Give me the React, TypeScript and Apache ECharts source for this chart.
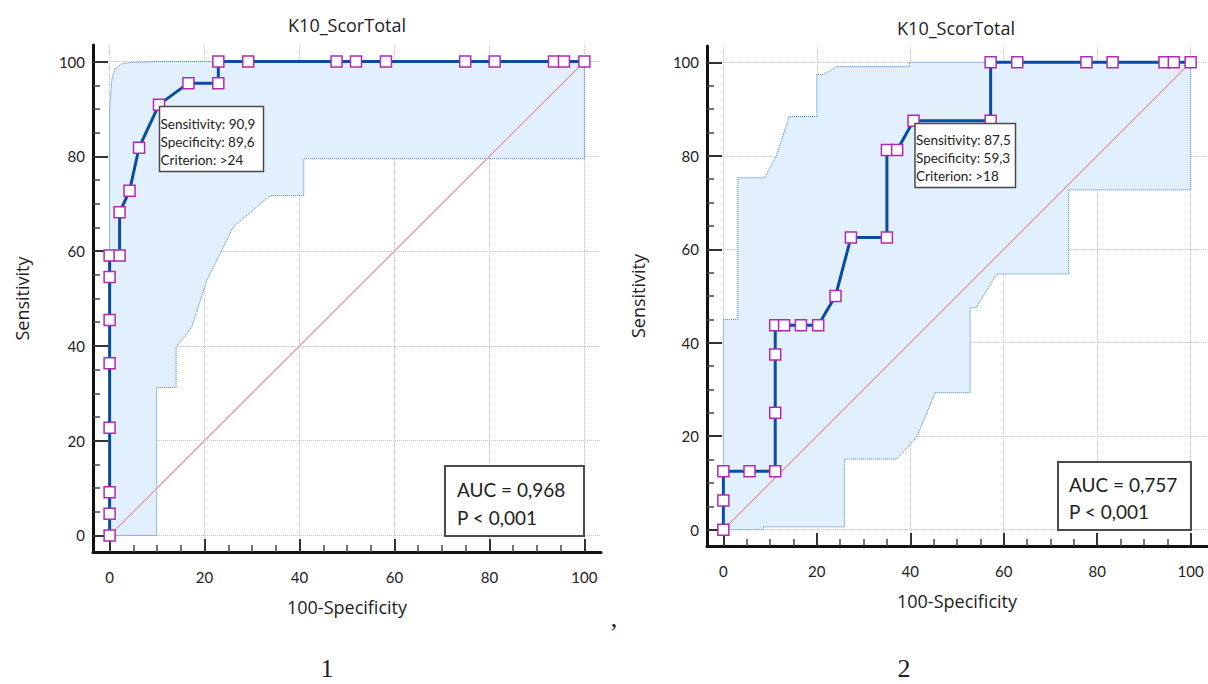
import React, { useEffect, useRef } from "react";
import * as echarts from "echarts";

const TITLE = "K10_ScorTotal";
const X_NAME = "100-Specificity";
const Y_NAME = "Sensitivity";
const MAJOR_TICKS = [0, 20, 40, 60, 80, 100];
const MINOR_TICKS = [5, 10, 15, 25, 30, 35, 45, 50, 55, 65, 70, 75, 85, 90, 95];
const DIAGONAL = [[0, 0], [100, 100]];

// Chart 1: ROC points [100-specificity, sensitivity]
const roc1 = [
  [0, 0], [0, 4.55], [0, 9.09], [0, 22.73], [0, 36.36], [0, 45.45], [0, 54.55], [0, 59.09],
  [2.1, 59.09], [2.1, 68.18], [4.2, 72.73], [6.2, 81.82], [10.4, 90.91], [16.6, 95.45],
  [22.9, 95.45], [22.9, 100], [29.2, 100], [47.8, 100], [51.9, 100], [58.2, 100],
  [74.9, 100], [81.1, 100], [93.6, 100], [95.7, 100], [100, 100],
];
const upper1 = [
  [0, 0], [0, 90], [0.5, 96.5], [1.2, 98.5], [2.5, 99.5], [4.3, 99.8], [10, 100], [100, 100],
];
const lower1 = [
  [0, 0], [9.9, 0], [9.9, 31.2], [14, 31.2], [14, 39.7], [17.3, 44], [20.5, 53.9], [25, 63],
  [26.1, 65.2], [33.8, 71.7], [40.9, 71.7], [40.9, 79.5], [100, 79.5], [100, 100],
];
const info1 = ["Sensitivity: 90,9", "Specificity: 89,6", "Criterion: >24"];
const auc1 = ["AUC = 0,968", "P < 0,001"];

// Chart 2
const roc2 = [
  [0, 0], [0, 6.25], [0, 12.5], [5.6, 12.5], [11.1, 12.5], [11.1, 25], [11.1, 37.5],
  [11.1, 43.75], [13, 43.75], [16.6, 43.75], [20.3, 43.75], [24, 50], [27.3, 62.5],
  [35, 62.5], [35, 81.25], [37.2, 81.25], [40.7, 87.5], [57.2, 87.5], [57.2, 100],
  [62.9, 100], [77.7, 100], [83.3, 100], [94.4, 100], [96.4, 100], [100, 100],
];
const upper2 = [
  [0, 0], [0, 45], [3.1, 45], [3.1, 75.3], [8.8, 75.3], [11.3, 79.8], [14.1, 88.4],
  [20, 88.4], [20, 97.4], [21.4, 97.4], [24.3, 99.1], [39.8, 99.1], [39.8, 100], [100, 100],
];
const lower2 = [
  [0, 0], [8.6, 0], [8.6, 0.6], [25.9, 0.6], [25.9, 15.1], [37.1, 15.1], [41.4, 19.8],
  [45.3, 29.3], [52.8, 29.3], [52.8, 47.5], [54.1, 47.5], [58.5, 54.7], [73.9, 54.7],
  [73.9, 72.7], [100, 72.7], [100, 100],
];
const info2 = ["Sensitivity: 87,5", "Specificity: 59,3", "Criterion: >18"];
const auc2 = ["AUC = 0,757", "P < 0,001"];

const FONT = "Lato";
const NAME_FONT = "Open Sans";
const TXT = "#222";

function axesFor(gridIndex: number, isX: boolean, nameGap: number) {
  const common = {
    type: "value",
    gridIndex,
    min: -3.5,
    max: 103.5,
    position: isX ? "bottom" : "left",
  };
  const major = {
    ...common,
    name: isX ? X_NAME : Y_NAME,
    nameLocation: "middle",
    nameGap,
    nameTextStyle: { fontFamily: NAME_FONT, fontSize: 18, color: TXT },
    axisLine: { show: true, onZero: false, lineStyle: { color: "#111", width: 3 } },
    axisTick: {
      show: true,
      inside: true,
      length: isX ? 13 : 15,
      customValues: MAJOR_TICKS,
      lineStyle: { color: "#333", width: 2 },
    },
    axisLabel: {
      customValues: MAJOR_TICKS,
      margin: isX ? 17 : 8,
      fontFamily: FONT,
      fontSize: 15,
      color: TXT,
    },
    splitLine: { show: true, lineStyle: { color: "#c6c6c6", type: "dotted", width: 1 } },
  };
  const minor = {
    ...common,
    axisLine: { show: false, onZero: false },
    axisTick: {
      show: true,
      inside: true,
      length: 7,
      customValues: MINOR_TICKS,
      lineStyle: { color: "#444", width: 1.5 },
    },
    axisLabel: { show: false },
    splitLine: { show: false },
  };
  return [major, minor];
}

function seriesFor(axisIndex: number, roc: number[][], upper: number[][], lower: number[][]) {
  const base = { xAxisIndex: axisIndex, yAxisIndex: axisIndex };
  return [
    {
      ...base,
      type: "custom",
      silent: true,
      z: 1,
      data: [0],
      renderItem: (_p: any, api: any) => {
        const pts = upper.concat(lower.slice().reverse()).map((p) => api.coord(p));
        return { type: "polygon", shape: { points: pts }, style: { fill: "#e2effc" } };
      },
    },
    {
      ...base,
      type: "line",
      silent: true,
      z: 2,
      data: upper,
      showSymbol: false,
      lineStyle: { color: "#3d7dcc", width: 1, type: "dotted" },
    },
    {
      ...base,
      type: "line",
      silent: true,
      z: 2,
      data: lower,
      showSymbol: false,
      lineStyle: { color: "#3d7dcc", width: 1, type: "dotted" },
    },
    {
      ...base,
      type: "line",
      silent: true,
      z: 3,
      data: DIAGONAL,
      showSymbol: false,
      lineStyle: { color: "#f0d6e0", width: 2 },
    },
    {
      ...base,
      type: "line",
      silent: true,
      z: 3,
      data: DIAGONAL,
      showSymbol: false,
      lineStyle: { color: "#b0506f", width: 0.6 },
    },
    {
      ...base,
      type: "line",
      silent: true,
      z: 5,
      data: roc,
      symbol: "rect",
      symbolSize: 11,
      showSymbol: true,
      showAllSymbol: true,
      lineStyle: { color: "#0a4c9e", width: 3 },
      itemStyle: { color: "#ffffff", borderColor: "#b02ab4", borderWidth: 1.5 },
    },
  ];
}

function text(x: number, y: number, s: string, size: number, align = "left", family = FONT) {
  return {
    type: "text",
    x,
    y,
    z: 100,
    silent: true,
    style: {
      text: s,
      font: `${size}px ${family}`,
      fill: TXT,
      align,
      textAlign: align,
      verticalAlign: "middle",
      textVerticalAlign: "middle",
    },
  };
}

function box(x: number, y: number, w: number, h: number, lw: number) {
  return {
    type: "rect",
    z: 99,
    silent: true,
    shape: { x, y, width: w, height: h },
    style: { fill: "#ffffff", stroke: "#4a4a4a", lineWidth: lw },
  };
}

export default function App() {
  const ref = useRef<HTMLDivElement>(null);
  useEffect(() => {
    if (!ref.current) return;
    const chart = echarts.init(ref.current, null, { renderer: "svg" });
    const option: any = {
      animation: false,
      backgroundColor: "#ffffff",
      grid: [
        { left: 93, top: 45, width: 508, height: 507 },
        { left: 707, top: 46, width: 500, height: 500 },
      ],
      xAxis: [...axesFor(0, true, 46), ...axesFor(1, true, 46)],
      yAxis: [...axesFor(0, false, 62), ...axesFor(1, false, 60)],
      series: [
        ...seriesFor(0, roc1, upper1, lower1),
        ...seriesFor(2, roc2, upper2, lower2),
      ],
      graphic: [
        text(347, 25, TITLE, 18, "center", NAME_FONT),
        text(956, 28, TITLE, 18, "center", NAME_FONT),
        box(159.5, 106.5, 104, 65, 1.5),
        text(160.5, 123.5, info1[0], 13.5),
        text(160.5, 141.5, info1[1], 13.5),
        text(160.5, 159.5, info1[2], 13.5),
        box(915, 123.5, 100.5, 64, 1.5),
        text(916, 139.5, info2[0], 13.5),
        text(916, 157.5, info2[1], 13.5),
        text(916, 175.5, info2[2], 13.5),
        box(445, 466, 139, 70, 2),
        text(457, 489, auc1[0], 19),
        text(457, 517, auc1[1], 19),
        box(1058, 462, 133, 68, 2),
        text(1069, 484.5, auc2[0], 19),
        text(1069, 511, auc2[1], 19),
        text(327, 668, "1", 26, "center", "Liberation Serif"),
        text(614, 618, ",", 26, "center", "Liberation Serif"),
        text(904, 668, "2", 26, "center", "Liberation Serif"),
      ],
    };
    chart.setOption(option);
    return () => chart.dispose();
  }, []);
  return (
    <div
      ref={ref}
      style={{ position: "absolute", left: 0, top: 0, width: 1208, height: 684, background: "#fff" }}
    />
  );
}
